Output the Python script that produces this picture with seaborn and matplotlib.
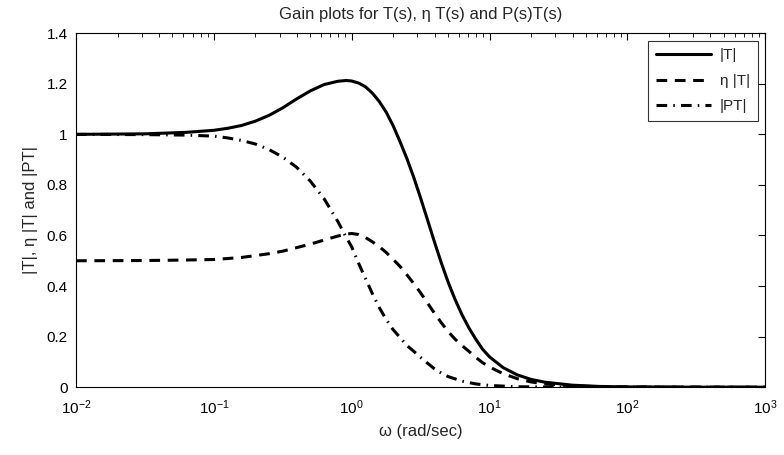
import numpy as np
import pandas as pd
import seaborn as sns
import matplotlib
matplotlib.use('Agg')
import matplotlib.pyplot as plt
from matplotlib.ticker import LogLocator, FixedLocator, NullFormatter

# values (frequency read as log10 of omega)
logw_T = [-2, -1.5, -1.2, -1.0, -0.9, -0.8, -0.7, -0.6, -0.5, -0.4, -0.3, -0.2, -0.1,
          -0.04, 0.0, 0.05, 0.1, 0.15, 0.2, 0.25, 0.3, 0.35, 0.4, 0.45, 0.5, 0.55,
          0.6, 0.65, 0.7, 0.75, 0.8, 0.85, 0.9, 0.95, 1.0, 1.1, 1.2, 1.3, 1.4, 1.6,
          1.8, 2.0, 2.5, 3.0]
mag_T = [1.000, 1.002, 1.008, 1.016, 1.024, 1.035, 1.052, 1.075, 1.105, 1.140, 1.172,
         1.197, 1.210, 1.213, 1.211, 1.203, 1.188, 1.163, 1.130, 1.088, 1.035, 0.972,
         0.905, 0.830, 0.748, 0.662, 0.575, 0.492, 0.415, 0.347, 0.287, 0.235, 0.190,
         0.150, 0.120, 0.077, 0.049, 0.031, 0.020, 0.008, 0.003, 0.0013, 0.0001, 0.0]

logw_eta = [-2, -1.5, -1.2, -1.0, -0.8, -0.6, -0.5, -0.4, -0.3, -0.2, -0.1, -0.03, 0.0,
            0.05, 0.1, 0.15, 0.2, 0.25, 0.3, 0.35, 0.4, 0.45, 0.5, 0.55, 0.6, 0.65,
            0.7, 0.75, 0.8, 0.85, 0.9, 0.95, 1.0, 1.1, 1.2, 1.3, 1.4, 1.6, 1.8, 2.0,
            2.5, 3.0]
mag_eta = [0.500, 0.501, 0.503, 0.505, 0.513, 0.528, 0.538, 0.552, 0.566, 0.582, 0.598,
           0.606, 0.608, 0.604, 0.592, 0.575, 0.556, 0.533, 0.506, 0.478, 0.445, 0.410,
           0.373, 0.333, 0.293, 0.255, 0.220, 0.190, 0.165, 0.142, 0.118, 0.097, 0.080,
           0.053, 0.034, 0.021, 0.013, 0.005, 0.002, 0.0008, 0.0001, 0.0]

logw_PT = [-2, -1.5, -1.2, -1.0, -0.9, -0.8, -0.7, -0.6, -0.5, -0.4, -0.3, -0.2, -0.1,
           -0.05, 0.0, 0.05, 0.1, 0.15, 0.2, 0.25, 0.3, 0.35, 0.4, 0.45, 0.5, 0.55,
           0.6, 0.65, 0.7, 0.8, 0.9, 1.0, 1.2, 1.5, 2.0, 3.0]
mag_PT = [1.000, 0.999, 0.997, 0.993, 0.986, 0.976, 0.962, 0.940, 0.910, 0.870, 0.815,
          0.745, 0.655, 0.603, 0.555, 0.490, 0.430, 0.370, 0.315, 0.268, 0.228, 0.197,
          0.165, 0.142, 0.118, 0.095, 0.073, 0.056, 0.042, 0.024, 0.013, 0.007, 0.0018,
          0.0003, 0.0, 0.0]

labels = ['|T|', 'η |T|', '|PT|']
yticks = [0, 0.2, 0.4, 0.6, 0.8, 1, 1.2, 1.4]
ytick_labels = ['0', '0.2', '0.4', '0.6', '0.8', '1', '1.2', '1.4']

sns.set_style('white')
plt.rcParams['font.family'] = ['Liberation Sans', 'DejaVu Sans']
plt.rcParams['font.size'] = 11

fig = plt.figure(figsize=(7.84, 4.55), dpi=100)
ax = fig.add_axes([0.097, 0.149, 0.879, 0.778])

df_T = pd.DataFrame({'w': 10 ** np.array(logw_T), 'mag': mag_T})
df_eta = pd.DataFrame({'w': 10 ** np.array(logw_eta), 'mag': mag_eta})
df_PT = pd.DataFrame({'w': 10 ** np.array(logw_PT), 'mag': mag_PT})

sns.lineplot(data=df_T, x='w', y='mag', ax=ax, color='black', lw=2.2,
             linestyle='-', label=labels[0])
sns.lineplot(data=df_eta, x='w', y='mag', ax=ax, color='black', lw=2.2,
             linestyle=(0, (3.5, 2.5)), label=labels[1])
sns.lineplot(data=df_PT, x='w', y='mag', ax=ax, color='black', lw=2.2,
             linestyle=(0, (3.5, 2, 0.5, 2)), label=labels[2])

ax.set_xscale('log')
ax.set_xlim(1e-2, 1e3)
ax.set_ylim(0, 1.4)
ax.yaxis.set_major_locator(FixedLocator(yticks))
ax.set_yticklabels(ytick_labels)
ax.xaxis.set_major_locator(LogLocator(base=10, numticks=10))
ax.xaxis.set_minor_locator(LogLocator(base=10, subs=np.arange(2, 10), numticks=20))
ax.xaxis.set_minor_formatter(NullFormatter())

ax.tick_params(which='both', direction='in', top=True, right=True, colors='black',
               labelsize=11)
ax.tick_params(which='major', length=5, width=0.8)
ax.tick_params(which='minor', length=3, width=0.6)
ax.tick_params(axis='x', which='major', pad=8)
ax.tick_params(axis='y', which='major', pad=6)
for sp in ax.spines.values():
    sp.set_visible(True)
    sp.set_color('black')
    sp.set_linewidth(0.8)

ax.set_title('Gain plots for T(s), η T(s) and P(s)T(s)', fontsize=12, pad=10)
ax.set_xlabel('ω (rad/sec)', fontsize=12, labelpad=5)
ax.set_ylabel('|T|, η |T| and |PT|', fontsize=12, labelpad=6)

leg = ax.legend(loc='upper right', frameon=True, fancybox=False, handlelength=3.6,
                handletextpad=0.6, borderaxespad=0.5, fontsize=11, labelspacing=0.75,
                borderpad=0.5)
leg.get_frame().set_edgecolor('black')
leg.get_frame().set_linewidth(0.8)

fig.savefig('out.png', dpi=100, facecolor='white')
